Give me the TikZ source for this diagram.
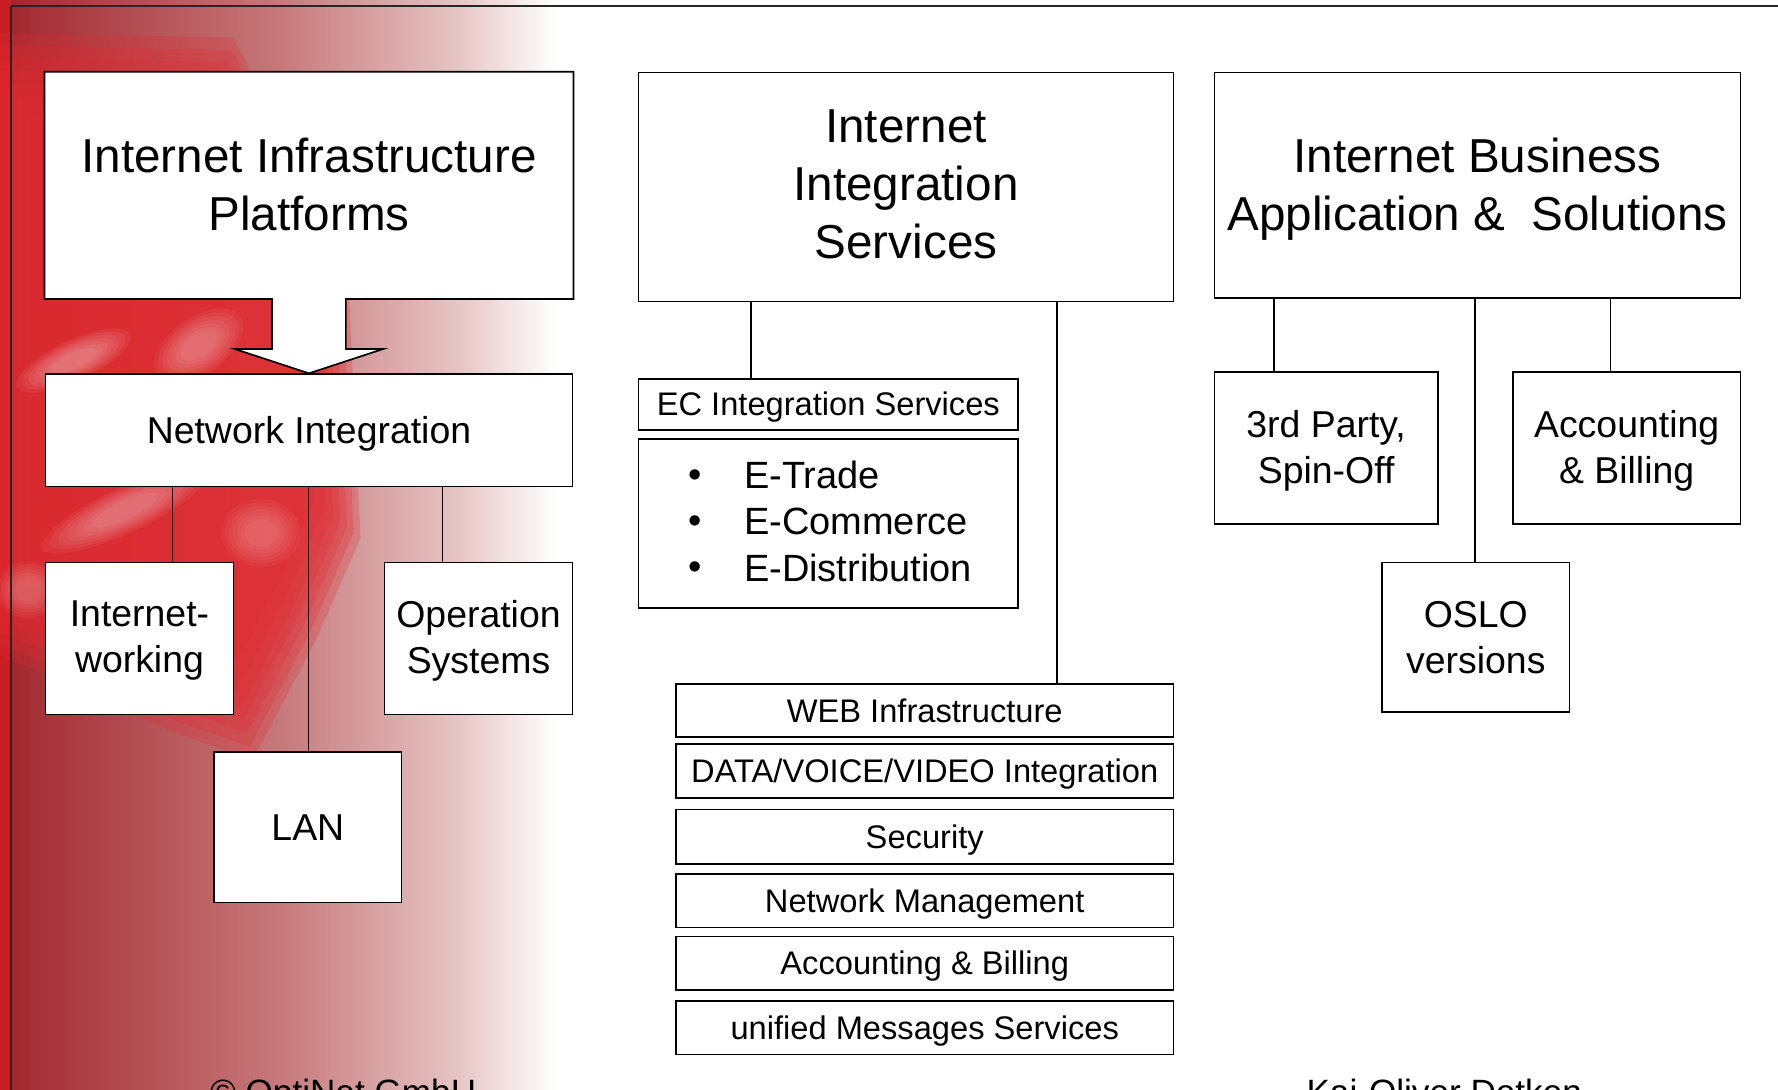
\documentclass[tikz,border=0pt]{standalone}
\usepackage{fontspec}
\setmainfont{Liberation Sans}
\usetikzlibrary{calc}
\definecolor{bgA}{RGB}{160,34,40}
\definecolor{bgB}{RGB}{165,48,54}
\definecolor{bgC}{RGB}{198,120,122}
\definecolor{bgD}{RGB}{230,196,196}
\definecolor{photored}{RGB}{226,42,48}
\definecolor{stripred}{RGB}{200,30,36}
\pgfdeclarehorizontalshading{bgshade}{100bp}{color(0bp)=(bgA); color(25bp)=(bgA); color(28bp)=(bgB); color(50bp)=(bgC); color(66bp)=(bgD); color(75bp)=(white); color(100bp)=(white)}
\tikzset{
  boxline/.style={draw=black, line width=1.5pt},
  box/.style={boxline, fill=white, inner sep=0pt, align=center, text=black},
  boxtext/.style={inner sep=0pt, align=center, text=black},
  bigtext/.style={font=\fontsize{42}{51}\selectfont},
  midtext/.style={font=\fontsize{33}{40.5}\selectfont},
  midone/.style={font=\fontsize{33}{40.5}\selectfont, text height=23.6pt, text depth=0pt},
  smalltext/.style={font=\fontsize{28.8}{34}\selectfont, text height=20.6pt, text depth=0pt},
  conn/.style={draw=black, line width=1.5pt},
  foot/.style={font=\fontsize{31}{38}\selectfont, inner sep=0pt, anchor=base west},
  soft/.style={opacity=0.26},
}
\begin{document}
\begin{tikzpicture}[x=1pt,y=-1pt]
\useasboundingbox (0,0) rectangle (1568,961);
\clip (0,0) rectangle (1568,961);
% ---------- background ----------
\fill[white] (0,0) rectangle (1568,961);
\shade[shading=bgshade] (0,0) rectangle (490,961);
\fill[stripred] (0,0) rectangle (10,961);
\foreach \s in {1.12,1.08,1.04,1.0,0.96,0.91,0.85}{
  \fill[photored, soft, scale around={\s:(150,340)}]
    (0,62) -- (200,66) -- (290,250) -- (300,460) -- (265,540) -- (215,635) -- (150,612) -- (40,562) -- (0,548) -- cycle;
}
\foreach \r in {1,0.9,0.8,0.7,0.6,0.5,0.4}{
  \fill[white, opacity=0.06] (65,318) ellipse [x radius=\r*55, y radius=\r*18, rotate=25];
  \fill[white, opacity=0.055] (110,450) ellipse [x radius=\r*80, y radius=\r*20, rotate=25];
  \fill[white, opacity=0.05] (175,305) ellipse [x radius=\r*45, y radius=\r*25, rotate=35];
  \fill[white, opacity=0.04] (25,520) ellipse [x radius=\r*30, y radius=\r*25];
  \fill[white, opacity=0.04] (230,470) ellipse [x radius=\r*35, y radius=\r*30];
}
% ---------- frame ----------
\draw[line width=2pt, black!85] (10,5) -- (1568,5);
\draw[line width=1.8pt, black!85] (10,5) -- (10,961);
% ---------- left column ----------
\node[box, draw=none, fill=none, minimum width=465, minimum height=199] (iip) at (272.5,163.5) {};
\node[box, midone, minimum width=465, minimum height=99] (ni) at (272.5,379.5) {Network Integration};
\draw[boxline, fill=white, line join=miter]
  (iip.north west) -- (iip.north east) -- (iip.south east)
  -- ($(iip.south)+(32.5,0)$) -- ($(iip.south)+(32.5,44)$) -- ($(iip.south)+(65.5,44)$)
  -- (ni.north)
  -- ($(iip.south)+(-65.5,44)$) -- ($(iip.south)+(-32.5,44)$) -- ($(iip.south)+(-32.5,0)$)
  -- (iip.south west) -- cycle;
\node[boxtext, bigtext, yshift=0.5pt] (iipt) at (iip.center) {Internet Infrastructure\\Platforms};
\node[box, minimum width=166, minimum height=134] (iw) at (123,563) {};
\node[boxtext, midtext, yshift=-2pt] (iwt) at (iw.center) {Internet-\\working};
\node[box, minimum width=166, minimum height=134] (os) at (422,563) {};
\node[boxtext, midtext, yshift=-2pt] (ost) at (os.center) {Operation\\Systems};
\node[box, midone, minimum width=165, minimum height=133] (lan) at (271.5,729.5) {LAN};
\coordinate (c1) at ($(iw.north west)+(113,0)$);
\draw[conn] (c1) -- (c1 |- ni.south);
\coordinate (c2) at ($(lan.north)+(0.5,0)$);
\draw[conn] (c2) -- (c2 |- ni.south);
\coordinate (c3) at ($(os.north west)+(52,0)$);
\draw[conn] (c3) -- (c3 |- ni.south);
% ---------- middle column ----------
\node[box, minimum width=472, minimum height=202] (iis) at (799,165) {};
\node[boxtext, bigtext, yshift=2.5pt] (iist) at (iis.center) {Internet\\Integration\\Services};
\node[box, smalltext, minimum width=335, minimum height=45] (ec) at (730.5,356.5) {EC Integration Services};
\node[box, minimum width=335, minimum height=149] (bul) at (730.5,461.5) {};
\foreach \y/\t/\n in {419/E-Trade/b1, 460/E-Commerce/b2, 500.5/E-Distribution/b3}{
  \node[font=\fontsize{33.5}{40}\selectfont, inner sep=0pt, yshift=-3pt] (\n dot) at (613,\y) {•};
  \node[font=\fontsize{33.5}{40}\selectfont, inner sep=0pt, anchor=west] (\n) at (656,\y) {\t};
}
\node[box, smalltext, minimum width=439, minimum height=47] (web) at (815.5,626.5) {WEB Infrastructure};
\node[box, smalltext, minimum width=439, minimum height=48] (dvv) at (815.5,680) {DATA/VOICE/VIDEO Integration};
\node[box, smalltext, minimum width=439, minimum height=48] (sec) at (815.5,738) {Security};
\node[box, smalltext, minimum width=439, minimum height=47] (nm) at (815.5,794.5) {Network Management};
\node[box, smalltext, minimum width=439, minimum height=47] (ab) at (815.5,849.5) {Accounting \& Billing};
\node[box, smalltext, minimum width=439, minimum height=47] (ums) at (815.5,906.5) {unified Messages Services};
\coordinate (c4) at ($(ec.north west)+(100,0)$);
\draw[conn] (c4) -- (c4 |- iis.south);
\coordinate (c5) at ($(web.north west)+(337,0)$);
\draw[conn] (c5) -- (c5 |- iis.south);
% ---------- right column ----------
\node[box, minimum width=464, minimum height=199] (ibas) at (1303,163.5) {};
\node[boxtext, bigtext, yshift=-3pt] (ibast) at (ibas.center) {Internet Business\\Application \&\ \ Solutions};
\node[box, minimum width=197, minimum height=134] (tp) at (1169.5,395) {};
\node[boxtext, midtext, yshift=-2.5pt] (tpt) at (tp.center) {3rd Party,\\Spin-Off};
\node[box, minimum width=201, minimum height=134] (acc) at (1434.5,395) {};
\node[boxtext, midtext, yshift=-2.5pt] (acct) at (acc.center) {Accounting\\\& Billing};
\node[box, minimum width=165, minimum height=132] (oslo) at (1301.5,562) {};
\node[boxtext, midtext] (oslot) at (oslo.center) {OSLO\\versions};
\coordinate (c6) at ($(tp.north west)+(53,0)$);
\draw[conn] (c6) -- (c6 |- ibas.south);
\coordinate (c7) at ($(oslo.north)+(-0.5,0)$);
\draw[conn] (c7) -- (c7 |- ibas.south);
\coordinate (c8) at ($(acc.north west)+(87,0)$);
\draw[conn] (c8) -- (c8 |- ibas.south);
% ---------- footer ----------
\node[foot] (copy) at (185,974) {© OptiNet GmbH};
\node[foot] (author) at (1152,974) {Kai-Oliver Detken};
\end{tikzpicture}
\end{document}
